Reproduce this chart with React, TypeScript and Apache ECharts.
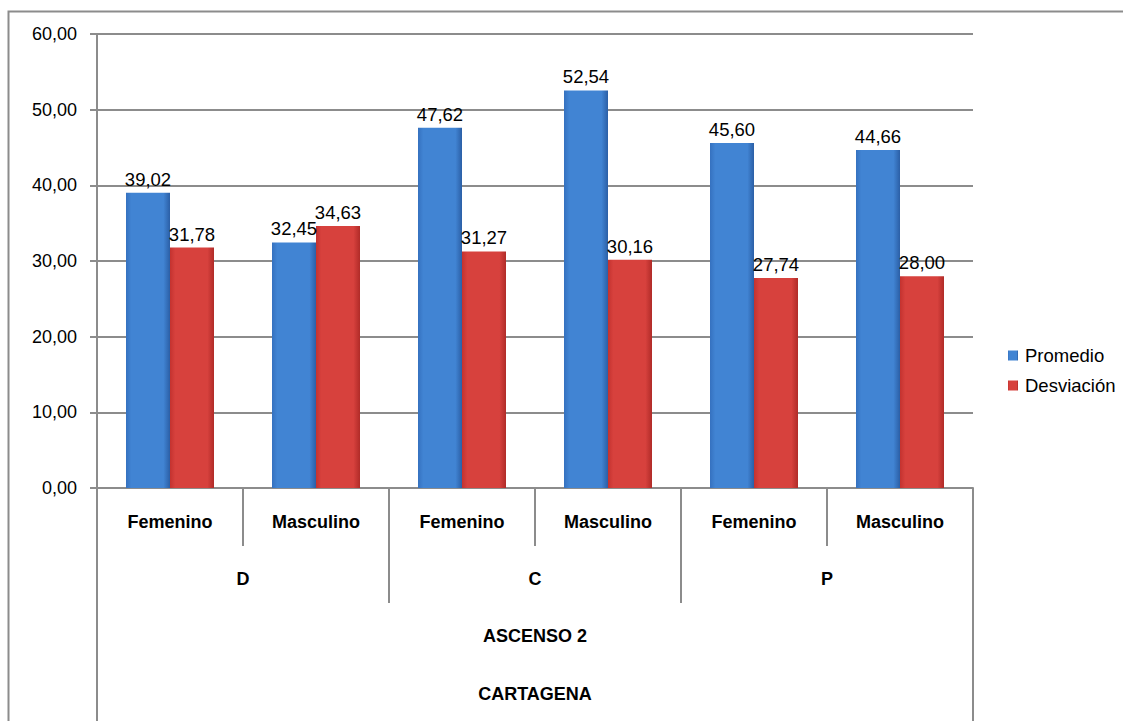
import React, { useEffect, useRef } from "react";
import * as echarts from "echarts";

const genders = ["Femenino", "Masculino", "Femenino", "Masculino", "Femenino", "Masculino"];
const groups = ["D", "C", "P"];
const level3 = ["ASCENSO 2"];
const level4 = ["CARTAGENA"];
const promedio = [39.02, 32.45, 47.62, 52.54, 45.6, 44.66];
const desviacion = [31.78, 34.63, 31.27, 30.16, 27.74, 28.0];

const FONT = "'Liberation Sans', Arial, Helvetica, sans-serif";
const GRAY = "#8c8c8c";

const fmt = (v: number) => v.toFixed(2).replace(".", ",");

function grad(left: string, mid: string, right: string) {
  return new echarts.graphic.LinearGradient(0, 0, 1, 0, [
    { offset: 0, color: left },
    { offset: 0.12, color: mid },
    { offset: 0.85, color: mid },
    { offset: 1, color: right },
  ]);
}

export default function App() {
  const ref = useRef<HTMLDivElement>(null);
  useEffect(() => {
    if (!ref.current) return;
    const chart = echarts.init(ref.current, undefined, { renderer: "svg" });
    const catAxisBase = {
      type: "category" as const,
      position: "bottom" as const,
      gridIndex: 0,
      boundaryGap: true,
      axisLine: { show: false },
      axisTick: { show: true, interval: 0, alignWithLabel: false, lineStyle: { color: GRAY, width: 2 } },
      axisLabel: { interval: 0, color: "#000", fontFamily: FONT, fontSize: 18, fontWeight: "bold" as const },
      splitLine: { show: false },
    };
    const labelStyle = {
      show: true,
      position: "top" as const,
      distance: 4,
      color: "#000",
      fontFamily: FONT,
      fontSize: 18.5,
      formatter: (p: any) => fmt(p.value),
    };
    chart.setOption({
      animation: false,
      backgroundColor: "#fff",
      textStyle: { fontFamily: FONT },
      graphic: [
        {
          type: "rect",
          shape: { x: 8.5, y: 11.5, width: 1300, height: 900 },
          style: { fill: "none", stroke: GRAY, lineWidth: 2 },
          silent: true,
          z: -1,
        },
      ],
      grid: { left: 97, right: 150, top: 34, bottom: 233, containLabel: false },
      legend: {
        orient: "vertical",
        left: 1003,
        top: 341,
        itemWidth: 10,
        itemHeight: 10,
        itemGap: 11,
        icon: "rect",
        textStyle: { fontFamily: FONT, fontSize: 18.5, color: "#000", padding: [0, 0, 0, 2] },
        data: ["Promedio", "Desviación"],
      },
      xAxis: [
        {
          ...catAxisBase,
          data: genders,
          axisLine: { show: true, lineStyle: { color: GRAY, width: 2 } },
          axisTick: { ...catAxisBase.axisTick, length: 58 },
          axisLabel: { ...catAxisBase.axisLabel, margin: 25 },
        },
        {
          ...catAxisBase,
          data: groups,
          offset: 58,
          axisTick: { ...catAxisBase.axisTick, length: 57 },
          axisLabel: { ...catAxisBase.axisLabel, margin: 24 },
        },
        {
          ...catAxisBase,
          data: level3,
          offset: 115,
          axisTick: { ...catAxisBase.axisTick, length: 300 },
          axisLabel: { ...catAxisBase.axisLabel, margin: 24 },
        },
        {
          ...catAxisBase,
          data: level4,
          offset: 172,
          axisTick: { show: false },
          axisLabel: { ...catAxisBase.axisLabel, margin: 25 },
        },
      ],
      yAxis: {
        type: "value",
        min: 0,
        max: 60,
        interval: 10,
        axisLine: { show: true, lineStyle: { color: GRAY, width: 2 } },
        axisTick: { show: true, length: 7, lineStyle: { color: GRAY, width: 2 } },
        splitLine: { show: true, lineStyle: { color: GRAY, width: 2 } },
        axisLabel: {
          margin: 20,
          color: "#000",
          fontFamily: FONT,
          fontSize: 18,
          formatter: (v: number) => fmt(v),
        },
      },
      series: [
        {
          name: "Promedio",
          type: "bar",
          xAxisIndex: 0,
          data: promedio,
          barWidth: 44,
          barGap: "0%",
          itemStyle: { color: grad("#3571bf", "#4184d3", "#2b5fa6") },
          label: labelStyle,
        },
        {
          name: "Desviación",
          type: "bar",
          xAxisIndex: 0,
          data: desviacion,
          barWidth: 44,
          barGap: "0%",
          itemStyle: { color: grad("#c3322f", "#d7413d", "#b02b28") },
          label: labelStyle,
        },
      ],
    });
    return () => chart.dispose();
  }, []);
  return (
    <div
      ref={ref}
      style={{ position: "absolute", left: 0, top: 0, width: 1123, height: 721 }}
    />
  );
}
